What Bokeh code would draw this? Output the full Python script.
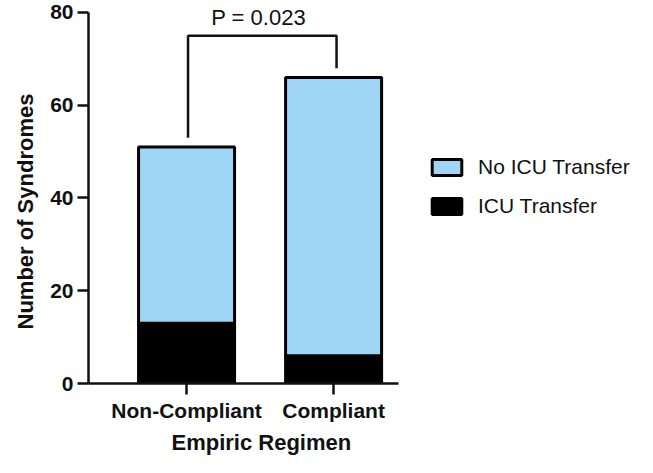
from bokeh.plotting import figure
from bokeh.models import ColumnDataSource, Range1d, Legend, LegendItem, FixedTicker, Title
from bokeh.core.properties import value
from bokeh.embed import file_html
from bokeh.resources import INLINE

# ---- data ----
categories = ["Non-Compliant", "Compliant"]
icu_transfer = [13, 6]
no_icu_transfer = [38, 60]
y_ticks = [0, 20, 40, 60, 80]
bracket_x = [1.01, 1.01, 2.02, 2.02]
bracket_y = [53, 75, 75, 68]
p_text = ["P = 0.023"]
p_text_x = [1.49]
p_text_y = [79]

FONT = "Liberation Sans"
BLUE = "#A0D6F5"
INK = "#111111"

xs = list(range(1, len(categories) + 1))
source = ColumnDataSource(dict(x=xs, icu=icu_transfer, no_icu=no_icu_transfer))

p = figure(width=637, height=457, output_backend="svg", toolbar_location=None,
           x_range=Range1d(0.333, 4.067), y_range=Range1d(0, 82.15),
           min_border_left=88, min_border_right=0, min_border_top=2,
           min_border_bottom=73)

renderers = p.vbar_stack(["icu", "no_icu"], x="x", width=0.653, source=source,
                         fill_color=["black", BLUE], line_color="black",
                         line_width=3)

# bracket + p value
p.line(bracket_x, bracket_y, line_color=INK, line_width=2.5)
p.text(x=p_text_x, y=p_text_y, text=p_text, text_align="center",
       text_baseline="middle", text_font=value(FONT), text_font_size="22px",
       text_color=INK)

# axes
p.xgrid.visible = False
p.ygrid.visible = False
p.outline_line_color = None
p.background_fill_color = "white"

p.yaxis.bounds = (0, 80)
p.xaxis.bounds = (0.333, 2.44)
p.yaxis.ticker = FixedTicker(ticks=y_ticks)
p.xaxis.ticker = FixedTicker(ticks=xs)
p.xaxis.major_label_overrides = {x: c for x, c in zip(xs, categories)}

for ax in (p.xaxis[0], p.yaxis[0]):
    ax.axis_line_width = 2.5
    ax.axis_line_color = INK
    ax.major_tick_line_width = 2.5
    ax.major_tick_line_color = INK
    ax.major_tick_out = 11
    ax.major_tick_in = 0
    ax.minor_tick_line_color = None
    ax.major_label_text_font = FONT
    ax.major_label_text_font_style = "bold"
    ax.major_label_text_font_size = "21px"
    ax.major_label_text_color = INK

p.xaxis.major_label_standoff = 4
p.yaxis.major_label_standoff = 4

# axis titles (placed along the drawn axis span, not the wider frame)
p.add_layout(Title(text="Empiric Regimen", align="left", offset=83,
                   standoff=6, text_font=FONT, text_font_style="bold",
                   text_font_size="22px", text_color=INK), "below")
p.add_layout(Title(text="Number of Syndromes", align="left", offset=54,
                   standoff=15, vertical_align="top", text_font=FONT,
                   text_font_style="bold", text_font_size="22px",
                   text_color=INK), "left")

legend = Legend(items=[LegendItem(label="No ICU Transfer", renderers=[renderers[1]]),
                       LegendItem(label="ICU Transfer", renderers=[renderers[0]])],
                location=(340, 165), padding=0, margin=0,
                border_line_color=None, background_fill_alpha=0,
                glyph_width=37, glyph_height=20, label_standoff=13, spacing=15,
                label_text_font=FONT, label_text_font_size="21px",
                label_text_color=INK)
p.add_layout(legend)

open("out.html", "w").write(file_html(p, INLINE))
